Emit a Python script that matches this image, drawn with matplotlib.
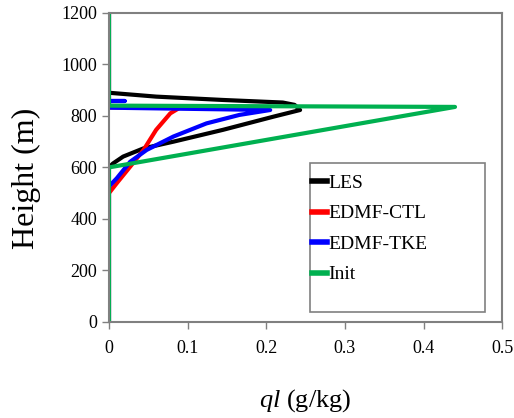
import matplotlib
matplotlib.use("Agg")
import matplotlib.pyplot as plt
from matplotlib.patches import Rectangle

plt.rcParams['font.family'] = ['Liberation Serif', 'DejaVu Serif']
plt.rcParams['mathtext.fontset'] = 'custom'
plt.rcParams['mathtext.it'] = 'Liberation Serif:italic'
plt.rcParams['mathtext.rm'] = 'Liberation Serif'

# профили водности (ql, г/кг) и высоты (м)
les_ql = [0, 0, 0.005, 0.018, 0.044, 0.082, 0.145, 0.209, 0.243, 0.236, 0.221, 0.145, 0.06, 0.0, 0]
les_h = [0, 600, 615, 642, 674, 700, 746, 797, 823, 843, 852, 862, 875, 890, 1200]

ctl_ql = [0, 0, 0.01, 0.027, 0.044, 0.06, 0.078, 0.09, 0.098, 0.0, 0]
ctl_h = [0, 500, 539, 603, 668, 746, 810, 832, 835, 833, 1200]

tke_ql = [0, 0, 0.01, 0.027, 0.048, 0.082, 0.124, 0.166, 0.205, 0.0, 0, 0.02, 0, 0]
tke_h = [0, 526, 558, 622, 668, 720, 771, 804, 823, 832, 858, 858, 858, 1200]

init_ql = [0, 0, 0.44, 0, 0]
init_h = [0, 600, 835, 840, 1200]

xticks = [0, 0.1, 0.2, 0.3, 0.4, 0.5]
yticks = [0, 200, 400, 600, 800, 1000, 1200]

fig = plt.figure(figsize=(5.14, 4.18), dpi=100)
ax = fig.add_axes([0.212, 0.230, 0.765, 0.739])

lw = 3
ax.plot(les_ql, les_h, color='black', lw=lw, label='LES')
ax.plot(ctl_ql, ctl_h, color='#ff0000', lw=lw, label='EDMF-CTL')
ax.plot(tke_ql, tke_h, color='#0000ff', lw=lw, label='EDMF-TKE')
ax.plot(init_ql, init_h, color='#00b050', lw=lw, label='Init')

ax.set_xlim(0, 0.5)
ax.set_ylim(0, 1200)
ax.set_xticks(xticks)
ax.set_xticklabels(['0', '0.1', '0.2', '0.3', '0.4', '0.5'])
ax.set_yticks(yticks)
for s in ax.spines.values():
    s.set_color('#808080')
    s.set_linewidth(1.5)
ax.tick_params(colors='#808080', labelcolor='black', labelsize=13, length=5, width=1)
ax.tick_params(axis='x', pad=8)

ax.set_ylabel('Height (m)', fontsize=23)
ax.yaxis.set_label_coords(-0.172, 0.466)
ax.set_xlabel(r'$ql$ (g/kg)', fontsize=19, labelpad=22)

# рамка легенды (в ней много пустого места снизу)
box = Rectangle((0.511, 0.032), 0.446, 0.483, transform=ax.transAxes,
                facecolor='white', edgecolor='#808080', lw=1.2, zorder=5)
ax.add_patch(box)
leg = ax.legend(loc='upper left', bbox_to_anchor=(0.487, 0.515), frameon=False,
                fontsize=14, handlelength=0.75, handletextpad=0.1,
                labelspacing=0.66, borderpad=0.6, borderaxespad=0)
leg.set_zorder(6)
for l in leg.get_lines():
    l.set_linewidth(4)

fig.savefig('out.png', dpi=100)
